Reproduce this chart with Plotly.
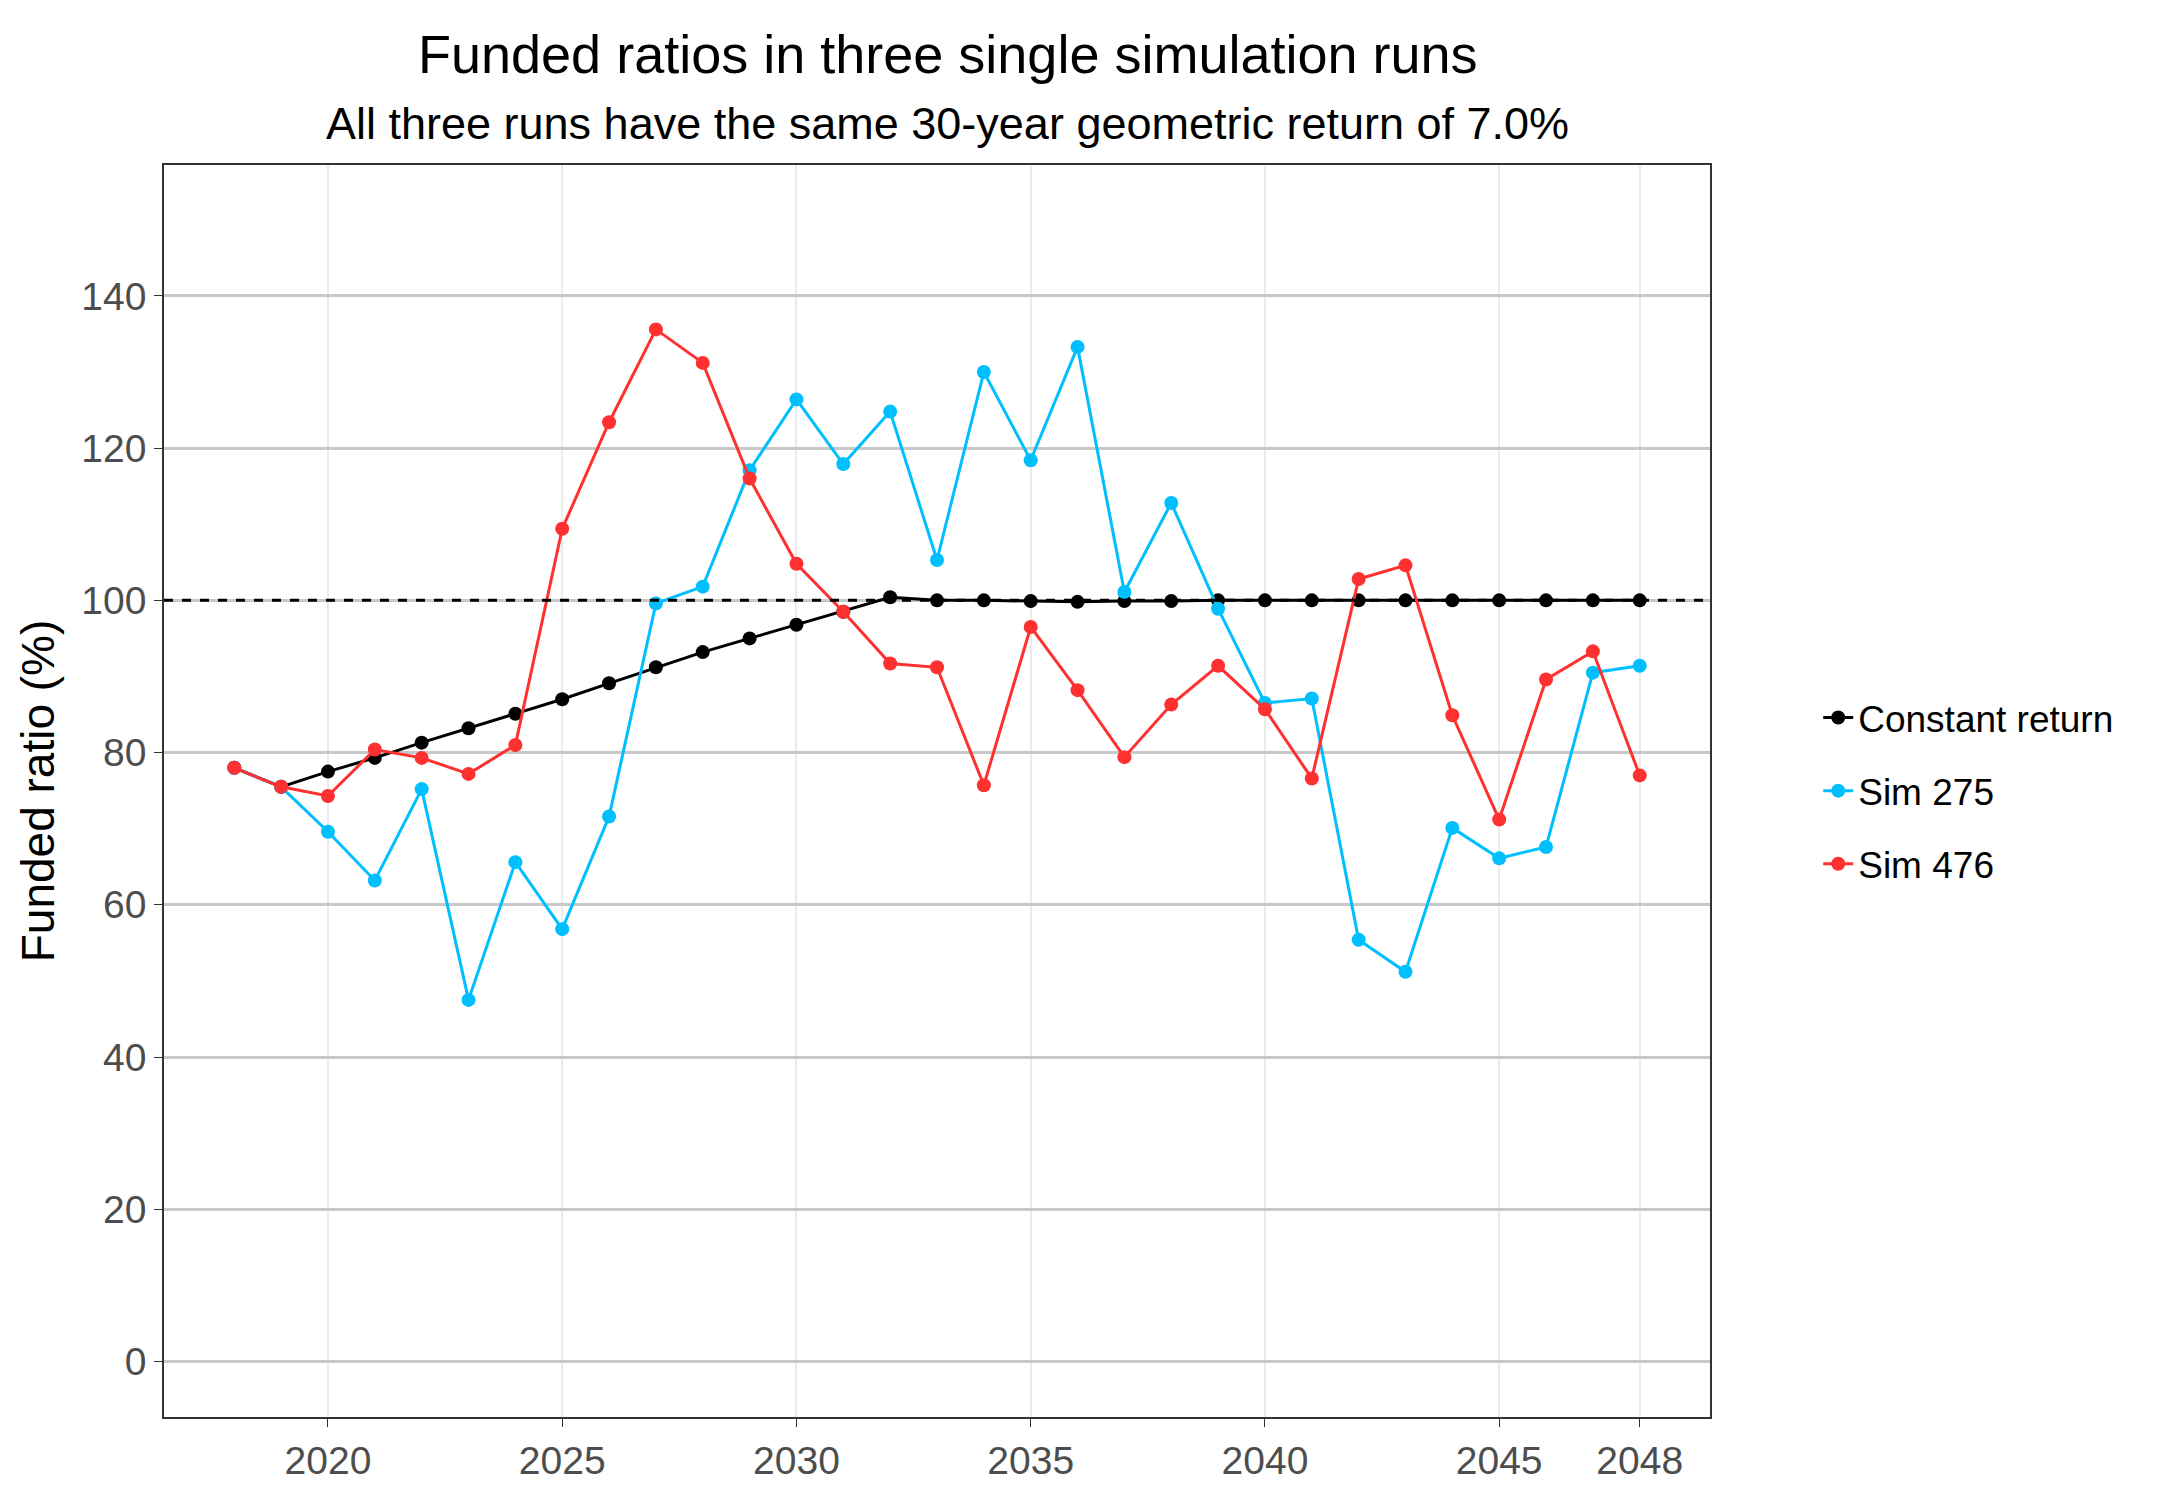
import plotly.graph_objects as go

years = list(range(2018, 2049))
constant = [78, 75.5, 77.5, 79.3, 81.3, 83.2, 85.1, 87.0, 89.1, 91.2, 93.2, 95.0, 96.8, 98.5, 100.4,
            100, 100, 99.9, 99.8, 99.9, 99.9, 100, 100, 100, 100, 100, 100, 100, 100, 100, 100]
sim275 = [78, 75.5, 69.6, 63.2, 75.2, 47.5, 65.6, 56.8, 71.6, 99.6, 101.8, 117.1, 126.4, 117.9, 124.8,
          105.3, 130.0, 118.4, 133.3, 101.1, 112.8, 98.9, 86.5, 87.1, 55.4, 51.2, 70.1, 66.1, 67.6, 90.5, 91.4]
sim476 = [78, 75.5, 74.3, 80.4, 79.3, 77.2, 81.0, 109.4, 123.4, 135.6, 131.2, 116.0, 104.8, 98.5, 91.7,
          91.2, 75.7, 96.5, 88.2, 79.4, 86.3, 91.4, 85.7, 76.6, 102.8, 104.6, 84.9, 71.2, 89.6, 93.3, 77.0]
x_ticks = [2020, 2025, 2030, 2035, 2040, 2045, 2048]
y_ticks = [0, 20, 40, 60, 80, 100, 120, 140]

fig = go.Figure()
for name, vals, col in [("Constant return", constant, "black"),
                        ("Sim 275", sim275, "#00BFFF"),
                        ("Sim 476", sim476, "#FF3030")]:
    fig.add_trace(go.Scatter(x=years, y=vals, mode="lines+markers", name=name, legendgroup=name,
                             line=dict(color=col, width=3), marker=dict(color=col, size=14)))

fig.add_hline(y=100, line=dict(color="black", width=3, dash="dash"))

fig.add_annotation(text="Funded ratios in three single simulation runs", xref="paper", yref="paper",
                   x=0.507, y=1.0887, yanchor="middle", showarrow=False, font=dict(size=54))
fig.add_annotation(text="All three runs have the same 30-year geometric return of 7.0%",
                   xref="paper", yref="paper", x=0.507, y=1.0335, yanchor="middle",
                   showarrow=False, font=dict(size=45))

fig.update_layout(
    width=2175, height=1500,
    template="plotly_white",
    font=dict(family="Liberation Sans, Arial", color="black"),
    margin=dict(l=156, r=473, t=157, b=91),
    plot_bgcolor="white",
    showlegend=True,
    legend=dict(x=1.07, y=0.5, yanchor="middle", font=dict(size=37), tracegroupgap=22),
    xaxis=dict(range=[2016.5, 2049.5], tickvals=x_ticks, showgrid=True, gridcolor="#EBEBEB",
               gridwidth=1.5, zeroline=False, ticks="outside", ticklen=8, tickcolor="#333",
               tickfont=dict(size=39, color="#4D4D4D"), showline=True, linecolor="#333",
               linewidth=1.5, mirror=True),
    yaxis=dict(range=[-7.3, 157.2], tickvals=y_ticks, showgrid=True, gridcolor="#C8C8C8",
               gridwidth=2.5, zeroline=False, ticks="outside", ticklen=8, tickcolor="#333",
               tickfont=dict(size=39, color="#4D4D4D"), showline=True, linecolor="#333",
               linewidth=1.5, mirror=True,
               title=dict(text="Funded ratio (%)", font=dict(size=46), standoff=12)),
)

fig.write_html("out.html")
